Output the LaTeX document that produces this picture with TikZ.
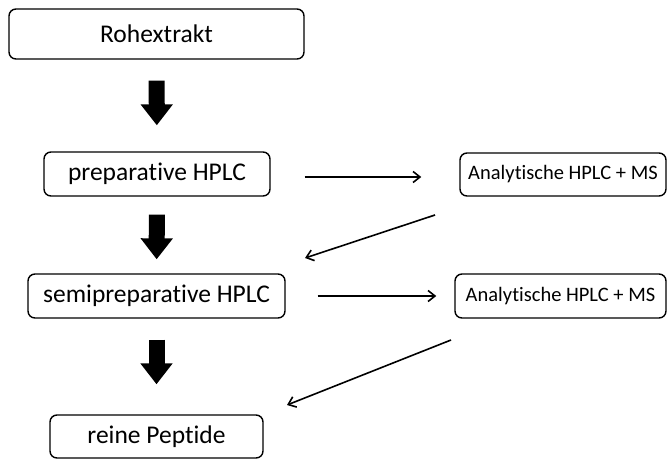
\documentclass[tikz,border=0pt]{standalone}
\usepackage{fontspec}
\setmainfont{Carlito}[Ligatures=NoCommon]
\usetikzlibrary{arrows.meta, positioning, calc}
\tikzset{
  stepbox/.style={draw, rounded corners=7pt, line width=1.4pt, inner sep=0pt,
                  font=\fontsize{25.5}{28}\selectfont, align=center},
  anabox/.style={stepbox, font=\fontsize{20.5}{24}\selectfont},
  bigarrow/.style={line width=16pt, -{Triangle[width=31pt,length=21pt]}},
  thinarrow/.style={line width=1.6pt, -{Straight Barb[length=7pt,width=11pt]}},
}

\begin{document}
\begin{tikzpicture}[x=1pt, y=-1pt]
  \useasboundingbox (0,0) rectangle (667,459);

  % Main column
  \node[stepbox, minimum width=295pt, minimum height=50pt] (rohe) at (156.5,34) {Rohextrakt};
  \node[stepbox, minimum width=226pt, minimum height=44pt] (prep) at (157,174) {preparative HPLC};
  \node[stepbox, minimum width=257pt, minimum height=44pt] (semi) at (156.5,296) {semipreparative HPLC};
  \node[stepbox, minimum width=213pt, minimum height=43pt] (pep) at (156.5,436.5) {reine Peptide};

  % Analysis boxes
  \node[anabox, minimum width=206pt, minimum height=43pt] (ana1) at (563,174.5) {Analytische HPLC + MS};
  \node[anabox, minimum width=211pt, minimum height=44pt] (ana2) at (560.5,296) {Analytische HPLC + MS};

  % Fat arrows
  \draw[bigarrow, shorten <=21pt, shorten >=26pt] (rohe) -- (prep);
  \draw[bigarrow, shorten <=18pt, shorten >=14pt] (prep) -- (semi);
  \draw[bigarrow, shorten <=21pt, shorten >=30pt] (semi) -- (pep);

  % To analysis
  \draw[thinarrow, shorten <=34pt, shorten >=38pt] ($(prep.east)+(0,3)$) -- ($(ana1.west)+(0,2.5)$);
  \draw[thinarrow, shorten <=32pt, shorten >=18pt] (semi.east) -- (ana2.west);

  % Back from analysis
  \coordinate (back1) at (435,215);
  \coordinate (back2) at (451,340);
  \coordinate (in1) at (305,258);
  \coordinate (in2) at (287,405);
  \draw[thinarrow] (back1) -- (in1);
  \draw[thinarrow] (back2) -- (in2);
\end{tikzpicture}
\end{document}
